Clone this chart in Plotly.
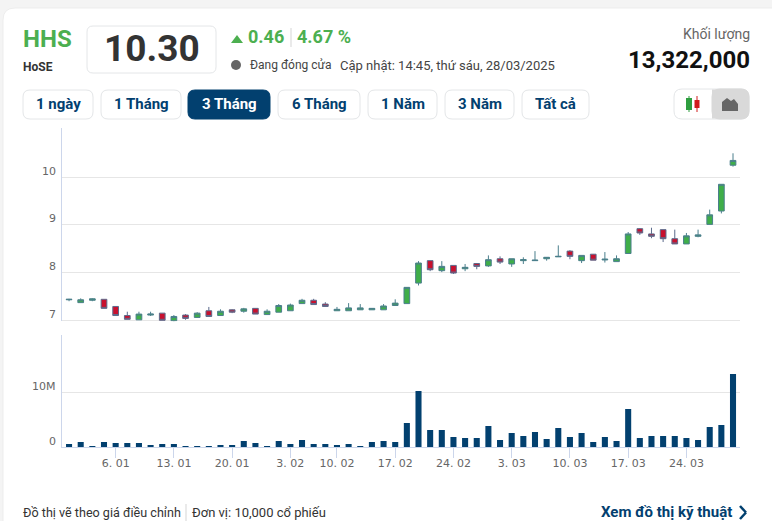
import plotly.graph_objects as go

W, H = 772, 521

# Data
dates = ["30. 12", "31. 12", "2. 01", "3. 01", "6. 01", "7. 01", "8. 01", "9. 01", "10. 01", "13. 01",
         "14. 01", "15. 01", "16. 01", "17. 01", "20. 01", "21. 01", "22. 01", "23. 01", "24. 01", "3. 02",
         "4. 02", "5. 02", "6. 02", "10. 02", "11. 02", "12. 02", "13. 02", "14. 02", "17. 02", "18. 02",
         "19. 02", "20. 02", "21. 02", "24. 02", "25. 02", "26. 02", "27. 02", "28. 02", "3. 03", "4. 03",
         "5. 03", "6. 03", "7. 03", "10. 03", "11. 03", "12. 03", "13. 03", "14. 03", "17. 03", "18. 03",
         "19. 03", "20. 03", "21. 03", "24. 03", "25. 03", "26. 03", "27. 03", "28. 03"]
opens = [7.43, 7.37, 7.42, 7.44, 7.29, 7.10, 7.01, 7.11, 7.15, 6.99,
         7.11, 7.06, 7.20, 7.10, 7.22, 7.19, 7.25, 7.12, 7.17, 7.20,
         7.35, 7.42, 7.34, 7.20, 7.20, 7.22, 7.22, 7.22, 7.31, 7.35,
         7.78, 8.25, 8.04, 8.15, 8.08, 8.19, 8.14, 8.29, 8.18, 8.25,
         8.25, 8.29, 8.33, 8.45, 8.25, 8.385, 8.265, 8.23, 8.40, 8.92,
         8.81, 8.90, 8.71, 8.60, 8.76, 9.01, 9.29, 10.25]
closes = [7.44, 7.43, 7.45, 7.25, 7.10, 7.02, 7.13, 7.13, 7.00, 7.08,
          7.04, 7.15, 7.08, 7.19, 7.17, 7.24, 7.13, 7.19, 7.31, 7.32,
          7.42, 7.33, 7.29, 7.23, 7.26, 7.26, 7.25, 7.30, 7.36, 7.69,
          8.20, 8.06, 8.13, 7.99, 8.11, 8.13, 8.27, 8.22, 8.29, 8.27,
          8.26, 8.32, 8.34, 8.34, 8.36, 8.26, 8.28, 8.29, 8.81, 8.83,
          8.76, 8.71, 8.60, 8.77, 8.79, 9.21, 9.85, 10.35]
highs = [7.45, 7.46, 7.46, 7.44, 7.29, 7.18, 7.18, 7.18, 7.15, 7.11,
         7.13, 7.17, 7.28, 7.23, 7.23, 7.26, 7.25, 7.23, 7.34, 7.35,
         7.45, 7.45, 7.38, 7.28, 7.36, 7.34, 7.25, 7.34, 7.44, 7.69,
         8.24, 8.25, 8.24, 8.15, 8.18, 8.20, 8.36, 8.34, 8.29, 8.32,
         8.45, 8.32, 8.57, 8.47, 8.36, 8.39, 8.43, 8.36, 8.85, 8.93,
         8.94, 8.90, 8.90, 8.83, 8.90, 9.32, 9.85, 10.50]
lows = [7.40, 7.37, 7.40, 7.25, 7.10, 7.02, 7.01, 7.09, 7.00, 6.97,
        7.01, 7.05, 7.08, 7.09, 7.15, 7.16, 7.13, 7.12, 7.17, 7.20,
        7.35, 7.33, 7.28, 7.20, 7.20, 7.22, 7.22, 7.22, 7.31, 7.35,
        7.73, 8.03, 8.01, 7.97, 8.03, 8.07, 8.12, 8.18, 8.12, 8.18,
        8.25, 8.25, 8.33, 8.28, 8.20, 8.26, 8.21, 8.23, 8.40, 8.79,
        8.72, 8.64, 8.60, 8.60, 8.74, 9.01, 9.24, 10.22]
volumes = [0.60, 0.97, 0.24, 0.97, 0.79, 0.79, 0.79, 0.42, 0.60, 0.60,
           0.24, 0.24, 0.24, 0.42, 0.42, 1.15, 0.79, 0.24, 1.15, 0.60,
           1.33, 0.60, 0.60, 0.42, 0.60, 0.24, 0.97, 1.15, 0.97, 4.42,
           10.24, 3.15, 3.15, 1.88, 1.70, 1.70, 3.88, 1.33, 2.60, 2.06,
           2.79, 1.50, 3.50, 1.88, 2.60, 0.97, 1.88, 1.15, 6.97, 1.70,
           2.06, 2.06, 2.06, 1.70, 1.33, 3.70, 4.06, 13.32]
date_ticks = ["6. 01", "13. 01", "20. 01", "3. 02", "10. 02", "17. 02", "24. 02", "3. 03", "10. 03", "17. 03", "24. 03"]
price_ticks = [7, 8, 9, 10]
volume_ticks = [0, 10]
volume_labels = ["0", "10M"]
periods = ["1 ngày", "1 Tháng", "3 Tháng", "6 Tháng", "1 Năm", "3 Năm", "Tất cả"]
period_boxes = [(23, 93), (101, 181), (188, 270), (278, 360), (368, 437), (445, 514), (522, 589)]

NAVY = "#02406f"
GREEN = "#4caf50"
FONT = "Roboto"
CHART_FONT = "DejaVu Sans"


# pixel helpers for the page furniture around the chart
def px(x):
    return x / W


def py(y):
    return 1 - y / H


def text(x, y, s, size, color, anchor="left", bold=False, family=FONT):
    # annotations keep a small pad round the text, take it back
    shift = {"left": -2, "right": 2, "center": 0}[anchor]
    fig.add_annotation(x=px(x), y=py(y), xref="paper", yref="paper", text=f"<b>{s}</b>" if bold else s,
                       showarrow=False, xanchor=anchor, yanchor="middle", xshift=shift,
                       font=dict(size=size, color=color, family=family))


def box(x0, y0, x1, y1, r, fill, line="#e4e6e8"):
    pts = [("M", x0 + r, y0), ("L", x1 - r, y0), ("Q", x1, y0, x1, y0 + r), ("L", x1, y1 - r),
           ("Q", x1, y1, x1 - r, y1), ("L", x0 + r, y1), ("Q", x0, y1, x0, y1 - r), ("L", x0, y0 + r),
           ("Q", x0, y0, x0 + r, y0)]
    path = ""
    for p in pts:
        coords = p[1:]
        path += p[0] + " ".join(f"{px(coords[i])},{py(coords[i + 1])}" for i in range(0, len(coords), 2)) + " "
    fig.add_shape(type="path", path=path + "Z", xref="paper", yref="paper", fillcolor=fill,
                  line=dict(color=line, width=1), layer="below")


def rect(x0, y0, x1, y1, fill, layer="above"):
    fig.add_shape(type="rect", x0=px(x0), y0=py(y0), x1=px(x1), y1=py(y1), xref="paper", yref="paper",
                  fillcolor=fill, line=dict(width=0), layer=layer)


def poly(points, fill):
    path = "M" + " L".join(f"{px(a)},{py(b)}" for a, b in points) + " Z"
    fig.add_shape(type="path", path=path, xref="paper", yref="paper", fillcolor=fill, line=dict(width=0))


def seg(x0, y0, x1, y1, color, width=1):
    fig.add_shape(type="line", x0=px(x0), y0=py(y0), x1=px(x1), y1=py(y1), xref="paper", yref="paper",
                  line=dict(color=color, width=width))


fig = go.Figure()

fig.add_trace(go.Candlestick(
    x=dates, open=opens, high=highs, low=lows, close=closes,
    increasing=dict(fillcolor="#3fae49", line=dict(color="#4b7f8c", width=1)),
    decreasing=dict(fillcolor="#c8102e", line=dict(color="#5c6b8c", width=1)),
    whiskerwidth=0, showlegend=False, xaxis="x", yaxis="y",
))
fig.add_trace(go.Bar(x=dates, y=volumes, marker=dict(color=NAVY, line=dict(width=0)),
                     showlegend=False, xaxis="x2", yaxis="y2"))

fig.update_layout(
    width=W, height=H, margin=dict(l=0, r=0, t=0, b=0),
    paper_bgcolor="#f4f4f4", plot_bgcolor="rgba(0,0,0,0)",
    boxgap=0.3, bargap=0.48, hovermode=False,
    xaxis=dict(domain=[62.3 / W, 740 / W], type="category", categoryorder="array", categoryarray=dates,
               range=[-0.58, 57.6], anchor="y", showticklabels=False, ticks="", showgrid=False, zeroline=False,
               showline=False, rangeslider=dict(visible=False)),
    # a little room under 7 so that its grid line is drawn
    yaxis=dict(domain=[1 - 321.3 / H, 1 - 128 / H], range=[6.979, 11.03], anchor="x", tickvals=price_ticks,
               showticklabels=False, ticks="", gridcolor="#e6e6e6", gridwidth=1, zeroline=False,
               showline=True, linecolor="#ccd6eb", linewidth=1),
    xaxis2=dict(domain=[62.3 / W, 740 / W], type="category", categoryorder="array", categoryarray=dates,
                range=[-0.58, 57.6], anchor="y2", tickmode="array", tickvals=date_ticks, ticktext=date_ticks,
                ticks="outside", ticklen=10, tickcolor="#ccd6eb", tickwidth=1, showgrid=False, zeroline=False,
                showline=True, linecolor="#ccd6eb", linewidth=1, tickangle=0, ticklabelstandoff=-5,
                tickfont=dict(size=11, color="#666666", family=CHART_FONT)),
    yaxis2=dict(domain=[1 - 447.3 / H, 1 - 335 / H], range=[0, 20.4], anchor="x2", tickvals=volume_ticks,
                showticklabels=False, ticks="", gridcolor="#e6e6e6", gridwidth=1, zeroline=False,
                showline=True, linecolor="#ccd6eb", linewidth=1),
)

# y labels sit just above their grid lines
for p in price_ticks:
    fig.add_annotation(x=58 / W, xref="paper", y=p, yref="y", yshift=6, text=str(p), showarrow=False, xanchor="right",
                       yanchor="middle", font=dict(size=11, color="#666666", family=CHART_FONT))
for v, lab in zip(volume_ticks, volume_labels):
    fig.add_annotation(x=58 / W, xref="paper", y=v, yref="y2", yshift=6, text=lab, showarrow=False, xanchor="right",
                       yanchor="middle", font=dict(size=11, color="#666666", family=CHART_FONT))

# card and header
box(3, 8, 790, 560, 12, "#ffffff", "#ededed")
text(23, 39, "HHS", 24, GREEN, bold=True)
text(23, 67, "HoSE", 12, "#333333", bold=True)
box(87, 26, 216, 73, 6, "#ffffff")
text(151.5, 48, "10.30", 37, "#333333", "center", bold=True)
poly([(231, 43), (243, 43), (237, 35)], GREEN)
text(248, 37, "0.46", 18, GREEN, bold=True)
seg(291, 28, 291, 47, "#d5d5d5")
text(297, 37, "4.67 %", 18, GREEN, bold=True)
fig.add_shape(type="circle", x0=px(231), y0=py(60), x1=px(241), y1=py(70), xref="paper", yref="paper",
              fillcolor="#666666", line=dict(width=0))
text(250, 65, "Đang đóng cửa", 12, "#444444")
text(340, 65, "Cập nhật: 14:45, thứ sáu, 28/03/2025", 13, "#444444")
text(750, 34, "Khối lượng", 14, "#666666", "right")
text(750, 60, "13,322,000", 24, "#111111", "right", bold=True)

# period buttons
for (x0, x1), label in zip(period_boxes, periods):
    active = label == "3 Tháng"
    box(x0, 90, x1, 119, 7, NAVY if active else "#ffffff", NAVY if active else "#e4e6e8")
    text((x0 + x1) / 2, 104, label, 15, "#ffffff" if active else NAVY, "center", bold=True)

# chart type toggle
box(674, 89, 749, 119, 8, "#ffffff")
box(712, 89, 749, 119, 8, "#d9d9d9", "#d9d9d9")
rect(712, 89.5, 722, 118.5, "#d9d9d9", "below")
seg(689, 96, 689, 112, "#2e9e3f")
rect(686, 98, 692, 110, "#2e9e3f")
seg(697, 96, 697, 112, "#d01c1c")
rect(694.5, 100, 699.5, 108, "#d01c1c")
poly([(722, 111), (722, 102), (727, 98), (731, 101), (734, 99), (738, 104), (738, 111)], "#666666")

# footer
text(23, 512, "Đồ thị vẽ theo giá điều chỉnh", 12.6, "#333333")
seg(186, 504, 186, 521, "#d5d5d5")
text(192, 512, "Đơn vị: 10,000 cổ phiếu", 13, "#333333")
text(732, 512, "Xem đồ thị kỹ thuật", 15, NAVY, "right", bold=True)
seg(740, 506, 746, 512.5, NAVY, 2.5)
seg(746, 512.5, 740, 519, NAVY, 2.5)

fig.write_html("out.html", config={"displayModeBar": False}, post_script="document.body.style.margin='0';")
